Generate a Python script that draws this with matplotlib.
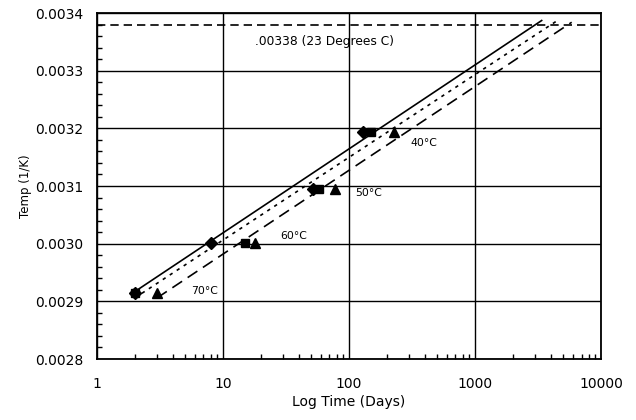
import matplotlib
matplotlib.use("Agg")
import matplotlib.pyplot as plt
from matplotlib.ticker import MultipleLocator, LogLocator, NullFormatter

# measured points: 1/T (K) against days to failure
temps_c = ["70°C", "60°C", "50°C", "40°C"]
inv_temp = [0.0029142, 0.0030017, 0.0030945, 0.0031934]
days_diamond = [2, 8, 52, 130]
days_square = [2, 15, 58, 150]
days_triangle = [3, 18, 78, 229]

# fitted lines, end points
solid_x = [2, 3380]
solid_y = [0.002917, 0.003387]
dotted_x = [2, 4580]
dotted_y = [0.002906, 0.003388]
dashed_x = [3, 5850]
dashed_y = [0.002906, 0.003384]

room_temp = 0.00338
label_x = [7.2, 36.6, 144, 394]
label_y = [0.002918, 0.003013, 0.003088, 0.003174]

x_ticks = [1, 10, 100, 1000, 10000]
x_labels = ["1", "10", "100", "1000", "10000"]
y_ticks = [0.0028, 0.0029, 0.0030, 0.0031, 0.0032, 0.0033, 0.0034]

fig = plt.figure(figsize=(6.36, 4.2), dpi=100)
ax = fig.add_axes([0.1525, 0.1452, 0.7925, 0.8238])

ax.set_xscale("log")
ax.set_xlim(1, 10000)
ax.set_ylim(0.0028, 0.0034)

ax.grid(True, which="major", color="black", linewidth=1.0)
ax.set_axisbelow(True)

ax.axhline(room_temp, color="black", linewidth=1.2, dashes=(5, 3))

ax.plot(solid_x, solid_y, color="black", linewidth=1.2)
ax.plot(dotted_x, dotted_y, color="black", linewidth=1.2, dashes=(2, 3))
ax.plot(dashed_x, dashed_y, color="black", linewidth=1.2, dashes=(7, 4))

ax.plot(days_diamond, inv_temp, linestyle="none", marker="D", markersize=6,
        color="black")
ax.plot(days_square, inv_temp, linestyle="none", marker="s", markersize=6,
        color="black")
ax.plot(days_triangle, inv_temp, linestyle="none", marker="^", markersize=7,
        color="black")

for i in range(len(temps_c)):
    ax.text(label_x[i], label_y[i], temps_c[i], fontsize=7.8,
            ha="center", va="center")

ax.text(17.9, 0.003351, ".00338 (23 Degrees C)", fontsize=8.8,
        ha="left", va="center")

ax.set_xticks(x_ticks)
ax.set_xticklabels(x_labels)
ax.xaxis.set_minor_locator(LogLocator(base=10, subs=range(2, 10), numticks=20))
ax.xaxis.set_minor_formatter(NullFormatter())
ax.set_yticks(y_ticks)
ax.set_yticklabels(["%.4f" % v for v in y_ticks])
ax.yaxis.set_minor_locator(MultipleLocator(0.00002))

ax.tick_params(which="major", length=0, labelsize=10)
ax.tick_params(axis="x", which="major", pad=13)
ax.tick_params(axis="y", which="major", pad=10)
ax.tick_params(which="minor", direction="in", length=3.5, width=1.0,
               color="black")

for side in ax.spines.values():
    side.set_linewidth(1.3)
    side.set_color("black")

ax.set_xlabel("Log Time (Days)", fontsize=10, labelpad=3)
ax.set_ylabel("Temp (1/K)", fontsize=8.5, labelpad=2)

fig.savefig("out.png", dpi=100)
